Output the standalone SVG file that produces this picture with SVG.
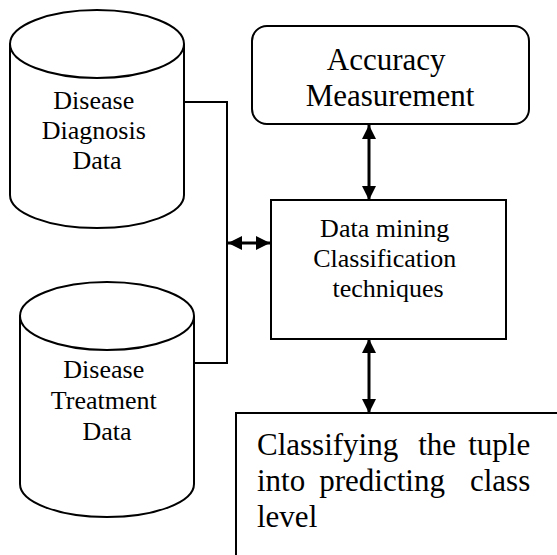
<svg xmlns="http://www.w3.org/2000/svg" width="557" height="555" viewBox="0 0 557 555">
  <defs>
    <marker id="arrowhead" viewBox="0 0 10 10" refX="10" refY="5" markerWidth="14" markerHeight="14" markerUnits="userSpaceOnUse" orient="auto-start-reverse">
      <path d="M0,0 L10,5 L0,10 Z" fill="#000"/>
    </marker>
  </defs>
  <style>
    .shape { fill: #fff; stroke: #000; stroke-width: 2; }
    .line { fill: none; stroke: #000; stroke-width: 2; }
    .arrow { fill: none; stroke: #000; stroke-width: 3; }
    .lbl { fill: #000; }
  </style>
  <rect width="557" height="555" fill="#fff"/>

  <!-- connectors -->
  <g id="connectors">
    <polyline class="line" points="184,102 227,102 227,363 194,363"/>
    <line class="arrow" x1="228" y1="243" x2="270" y2="243" marker-start="url(#arrowhead)" marker-end="url(#arrowhead)"/>
    <line class="arrow" x1="369" y1="125" x2="369" y2="200" marker-start="url(#arrowhead)" marker-end="url(#arrowhead)"/>
    <line class="arrow" x1="369" y1="339" x2="369" y2="413" marker-start="url(#arrowhead)" marker-end="url(#arrowhead)"/>
  </g>

  <!-- diagnosis data store -->
  <g id="diagnosis-data">
    <path class="shape" d="M10,44 L10,195 A87,33 0 0 0 184,195 L184,44"/>
    <ellipse class="shape" cx="97" cy="44" rx="87" ry="34"/>
    <text class="lbl" font-family="'Liberation Serif', 'DejaVu Serif', serif" text-anchor="middle" font-size="26">
      <tspan x="97" y="109">Disease</tspan>
      <tspan x="97" y="139">Diagnosis</tspan>
      <tspan x="97" y="169">Data</tspan>
    </text>
  </g>

  <!-- treatment data store -->
  <g id="treatment-data">
    <path class="shape" d="M20,316 L20,484 A87,33 0 0 0 194,484 L194,316"/>
    <ellipse class="shape" cx="107" cy="316" rx="87" ry="34"/>
    <text class="lbl" font-family="'Liberation Serif', 'DejaVu Serif', serif" text-anchor="middle" font-size="26">
      <tspan x="107" y="378">Disease</tspan>
      <tspan x="107" y="409">Treatment</tspan>
      <tspan x="107" y="440">Data</tspan>
    </text>
  </g>

  <!-- accuracy measurement -->
  <g id="accuracy">
    <rect class="shape" x="252" y="26" width="277" height="98" rx="15" ry="15"/>
    <text class="lbl" font-family="'Liberation Serif', 'DejaVu Serif', serif" text-anchor="middle" font-size="31">
      <tspan x="390" y="70">Accuracy</tspan>
      <tspan x="390" y="106">Measurement</tspan>
    </text>
  </g>

  <!-- classification techniques -->
  <g id="classification">
    <rect class="shape" x="271" y="200" width="235" height="139"/>
    <text class="lbl" font-family="'Liberation Serif', 'DejaVu Serif', serif" text-anchor="middle" font-size="26">
      <tspan x="388" y="237">Data mining</tspan>
      <tspan x="388" y="267">Classification</tspan>
      <tspan x="388" y="297">techniques</tspan>
    </text>
  </g>

  <!-- result box, justified text -->
  <g id="result">
    <rect class="shape" x="236" y="413" width="340" height="160"/>
    <text class="lbl" font-family="'Liberation Serif', 'DejaVu Serif', serif" font-size="31">
      <tspan x="257" y="455">Classifying</tspan>
      <tspan x="441" y="455" text-anchor="middle">the</tspan>
      <tspan x="538" y="455" text-anchor="end">tuple</tspan>
      <tspan x="257" y="491">into</tspan>
      <tspan x="386" y="491" text-anchor="middle">predicting</tspan>
      <tspan x="538" y="491" text-anchor="end">class</tspan>
      <tspan x="257" y="527">level</tspan>
    </text>
  </g>
</svg>
